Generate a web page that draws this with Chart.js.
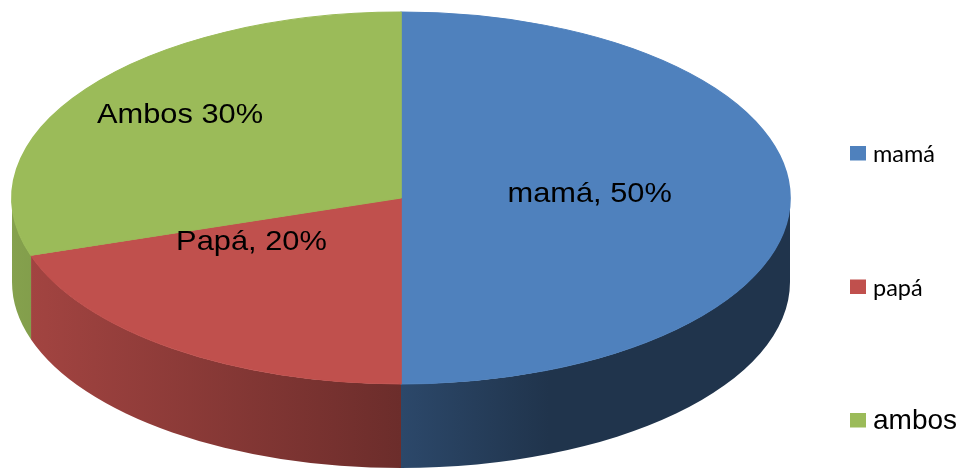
<!DOCTYPE html>
<html>
<head>
<meta charset="utf-8">
<script src="https://cdn.jsdelivr.net/npm/chart.js@4.4.0/dist/chart.umd.min.js"></script>
<style>
  html, body { margin: 0; padding: 0; background: #fff; }
  #wrap { width: 965px; height: 470px; position: relative; }
</style>
</head>
<body>
<div id="wrap"><canvas id="pie"></canvas></div>
<script>
const categories = ['mamá', 'papá', 'ambos'];
const values = [50, 20, 30];
const sliceTexts = ['mamá, 50%', 'Papá, 20%', 'Ambos 30%'];
const sliceColors = ['#4F81BD', '#C0504D', '#9BBB59'];

// tilted pie geometry on screen
const tilt = { cx: 401, cy: 198, rx: 389, ry: 186, depth: 84 };
// where each slice text sits (fraction of radius along x / y)
const labelPlace = [[0.485, 0], [0.654, 0.322], [0.702, 0.723]];
const legendFonts = ['23.5px Lato', '23.5px Lato', '28px "Liberation Sans", Arial'];

function shade(hex, f) {
  const n = parseInt(hex.slice(1), 16);
  const r = Math.round(((n >> 16) & 255) * f);
  const g = Math.round(((n >> 8) & 255) * f);
  const b = Math.round((n & 255) * f);
  return `rgb(${r},${g},${b})`;
}

const tiltPlugin = {
  id: 'tilt3d',
  beforeDatasetsDraw(chart) {
    const ctx = chart.ctx;
    const arcs = chart.getDatasetMeta(0).data;
    const { cx, cy, rx, ry, depth } = tilt;

    // side walls, only the front half is seen
    arcs.forEach((el, i) => {
      [-2 * Math.PI, 0, 2 * Math.PI].forEach(k => {
        const a = Math.max(el.startAngle + k, 0);
        const b = Math.min(el.endAngle + k, Math.PI);
        if (b <= a) return;
        const grad = ctx.createLinearGradient(cx - rx, 0, cx + rx, 0);
        const c = sliceColors[i];
        grad.addColorStop(0, shade(c, 0.86));
        grad.addColorStop(0.5, shade(c, 0.56));
        grad.addColorStop(0.69, shade(c, 0.40));
        grad.addColorStop(1, shade(c, 0.40));
        ctx.beginPath();
        ctx.ellipse(cx, cy, rx, ry, 0, a, b, false);
        ctx.ellipse(cx, cy + depth, rx, ry, 0, b, a, true);
        ctx.closePath();
        ctx.fillStyle = grad;
        ctx.fill();
      });
    });

    // squash the round pie into the top face
    const el = arcs[0];
    const r = el.outerRadius;
    ctx.save();
    ctx.translate(cx, cy);
    ctx.scale(rx / r, ry / r);
    ctx.translate(-el.x, -el.y);
  },
  afterDatasetsDraw(chart) {
    const ctx = chart.ctx;
    ctx.restore();

    const arcs = chart.getDatasetMeta(0).data;
    ctx.fillStyle = '#000';
    ctx.font = '28px "Liberation Sans", Arial, sans-serif';
    ctx.textAlign = 'center';
    ctx.textBaseline = 'alphabetic';
    arcs.forEach((el, i) => {
      const mid = (el.startAngle + el.endAngle) / 2;
      const p = labelPlace[i];
      const x = tilt.cx + tilt.rx * p[0] * Math.cos(mid);
      const y = tilt.cy - 6 + tilt.ry * p[1] * Math.sin(mid);
      ctx.save();
      ctx.translate(x, y + 10);
      ctx.scale(1.1, 1);
      ctx.fillText(sliceTexts[i], 0, 0);
      ctx.restore();
    });
  },
  afterDraw(chart) {
    const ctx = chart.ctx;
    ctx.textAlign = 'left';
    ctx.textBaseline = 'alphabetic';
    chart.data.labels.forEach((lab, i) => {
      const y = 146 + i * 133.5;
      ctx.fillStyle = sliceColors[i];
      ctx.fillRect(850, y, 16, 14.5);
      ctx.fillStyle = '#000';
      ctx.font = legendFonts[i];
      ctx.fillText(lab, 873, y + 16);
    });
  }
};

new Chart(document.getElementById('pie'), {
  type: 'pie',
  data: {
    labels: categories,
    datasets: [{
      data: values,
      backgroundColor: sliceColors,
      borderColor: sliceColors,
      borderWidth: 1,
      clip: false
    }]
  },
  options: {
    responsive: true,
    maintainAspectRatio: false,
    animation: false,
    events: [],
    layout: { padding: 0 },
    plugins: {
      legend: { display: false },
      tooltip: { enabled: false }
    }
  },
  plugins: [tiltPlugin]
});
</script>
</body>
</html>
